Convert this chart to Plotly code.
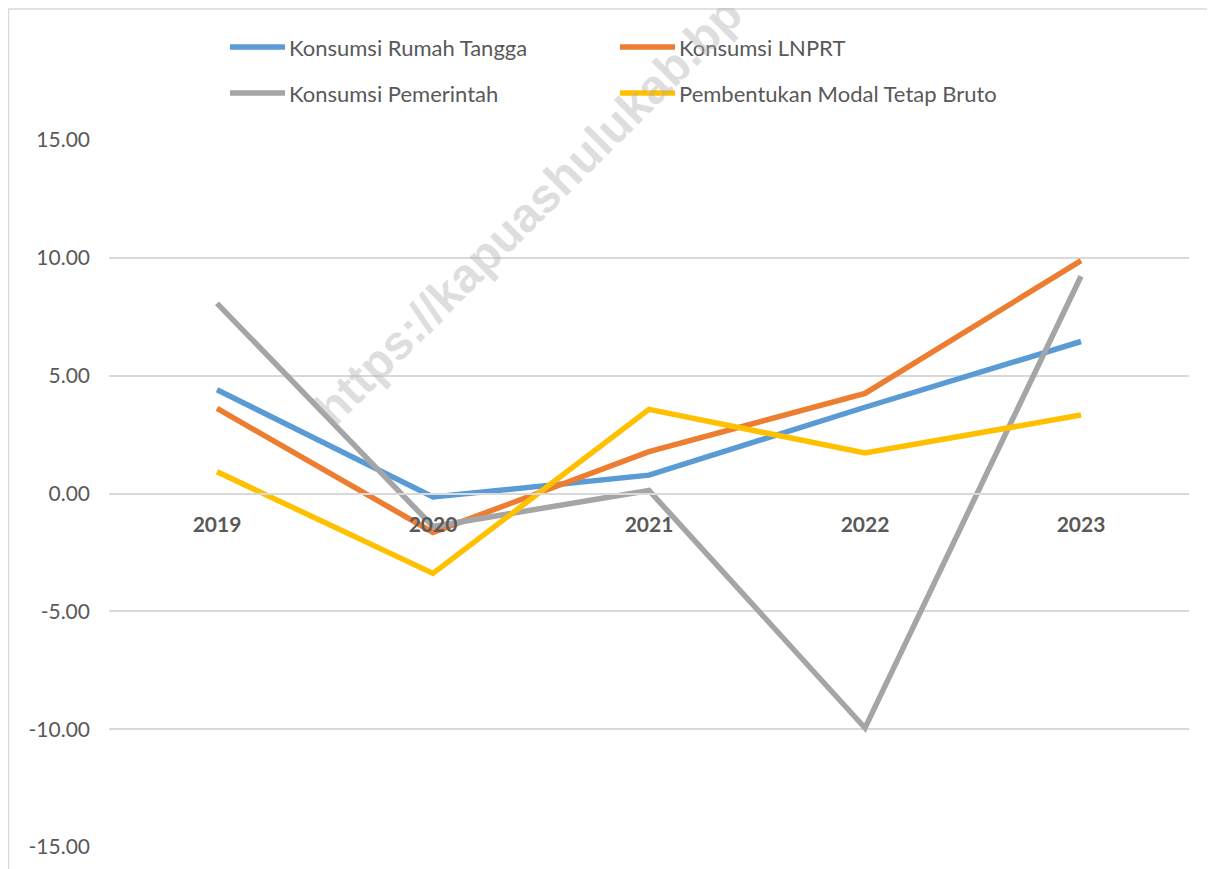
import plotly.graph_objects as go

# ---- data ----
years = ["2019", "2020", "2021", "2022", "2023"]
rumah_tangga = [4.40, -0.15, 0.78, 3.66, 6.45]
lnprt = [3.61, -1.65, 1.78, 4.25, 9.88]
pemerintah = [8.07, -1.40, 0.13, -9.95, 9.22]
pmtb = [0.92, -3.39, 3.57, 1.72, 3.33]

series_names = ["Konsumsi Rumah Tangga", "Konsumsi LNPRT",
                "Konsumsi Pemerintah", "Pembentukan Modal Tetap Bruto"]
series_values = [rumah_tangga, lnprt, pemerintah, pmtb]
colors = ["#5B9BD5", "#ED7D31", "#A5A5A5", "#FFC000"]

y_ticks = [-15, -10, -5, 0, 5, 10, 15]
y_tick_text = [f"{v:.2f}" for v in y_ticks]

# ---- layout geometry (pixels, page coords; page has 8px body margin) ----
OFF = 8
W, H = 1215, 869
L, T = 109 - OFF, 140 - OFF
PW, PH = 1080, 707
R = W - L - PW
B = H - T - PH


def px(x):
    return (x - OFF - L) / PW


def py(y):
    return (T + PH - (y - OFF)) / PH


FONT = "Lato"
TXT = "#595959"

fig = go.Figure()
for name, vals, c in zip(series_names, series_values, colors):
    fig.add_trace(go.Scatter(x=years, y=vals, mode="lines", name=name,
                             line=dict(color=c, width=5.5), showlegend=False))

shapes = []
annotations = []

# chart border
shapes.append(dict(type="rect", xref="paper", yref="paper",
                   x0=px(8.5), x1=px(1240), y0=py(9), y1=py(900),
                   line=dict(color="#D9D9D9", width=1.5), layer="below"))

# manual legend (two columns, two rows)
leg_pos = [(230, 47), (620, 47), (230, 93), (620, 93)]
for (lx, ly), name, c in zip(leg_pos, series_names, colors):
    shapes.append(dict(type="line", xref="paper", yref="paper",
                       x0=px(lx), x1=px(lx + 55), y0=py(ly), y1=py(ly),
                       line=dict(color=c, width=5.5)))
    annotations.append(dict(xref="paper", yref="paper", x=px(lx + 57), y=py(ly),
                            xanchor="left", yanchor="middle", showarrow=False,
                            text=name, font=dict(family=FONT, size=22, color=TXT)))

# watermark
annotations.append(dict(xref="paper", yref="paper", x=px(528), y=py(212),
                        xanchor="center", yanchor="middle", showarrow=False,
                        text="https://kapuashulukab.bp", textangle=-45,
                        font=dict(family="Liberation Sans", size=48,
                                  color="rgba(175,175,175,0.42)", weight="bold")))

fig.update_layout(
    width=W, height=H,
    margin=dict(l=L, r=R, t=T, b=B, pad=0),
    paper_bgcolor="white", plot_bgcolor="white",
    showlegend=False,
    shapes=shapes, annotations=annotations,
    xaxis=dict(type="category", range=[-0.5, 4.5], anchor="free", position=0.5,
               showgrid=False, showline=True, linecolor="#D9D9D9", linewidth=1.5,
               zeroline=False, ticks="", ticklabelstandoff=13,
               tickfont=dict(family=FONT, size=21, color=TXT, weight="bold")),
    yaxis=dict(range=[-15, 15], tickvals=y_ticks, ticktext=y_tick_text,
               showgrid=True, gridcolor="#D9D9D9", gridwidth=1.5,
               zeroline=False, showline=False, ticks="", ticklabelstandoff=18,
               tickfont=dict(family=FONT, size=21, color=TXT)),
)

fig.write_html("out.html")
